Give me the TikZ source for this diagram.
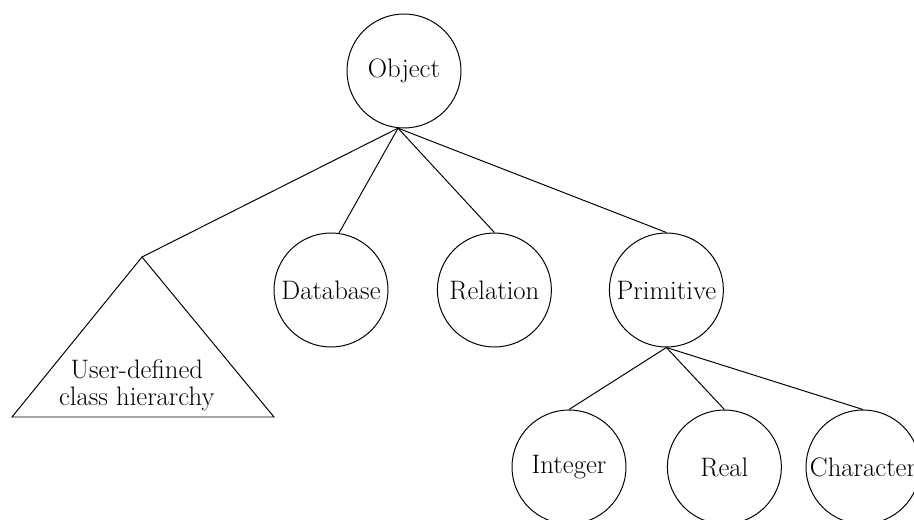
\documentclass[tikz,border=0pt]{standalone}
\usepackage{tikz}

\begin{document}
\begin{tikzpicture}[
    line width=0.7pt,
    cls/.style={draw, circle, inner sep=0pt, minimum size=2.85cm,
      font=\fontsize{19}{18}\selectfont}]
  \clip (0.00, 0.00) rectangle (22.85, 12.975);
  \node[cls] (object) at (10.10, 11.20) {Object};
  \node[cls] (database) at (8.275, 5.725) {Database};
  \node[cls] (relation) at (12.36, 5.725) {Relation};
  \node[cls] (primitive) at (16.66, 5.725) {Primitive};
  \node[cls] (integer) at (14.225, 1.30) {Integer};
  \node[cls] (real) at (18.11, 1.30) {Real};
  \node[cls] (character) at (21.575, 1.30) {Character};
  % user-defined classes
  \coordinate (apex) at (3.55, 6.55);
  \coordinate (baseL) at (0.30, 2.55);
  \coordinate (baseR) at (6.85, 2.55);
  \draw (apex) -- (baseL) -- (baseR) -- cycle;
  \node[align=center, font=\fontsize{19}{19}\selectfont] (userdef) at (3.42, 3.35)
    {User-defined\\class hierarchy};
  % edges
  \draw (object.-96) -- (apex);
  \draw (object.-96) -- (database.82);
  \draw (object.-96) -- (relation.north);
  \draw (object.-96) -- (primitive.north);
  \draw (primitive.south) -- (integer.north);
  \draw (primitive.south) -- (real.north);
  \draw (primitive.south) -- (character.north);
\end{tikzpicture}
\end{document}
